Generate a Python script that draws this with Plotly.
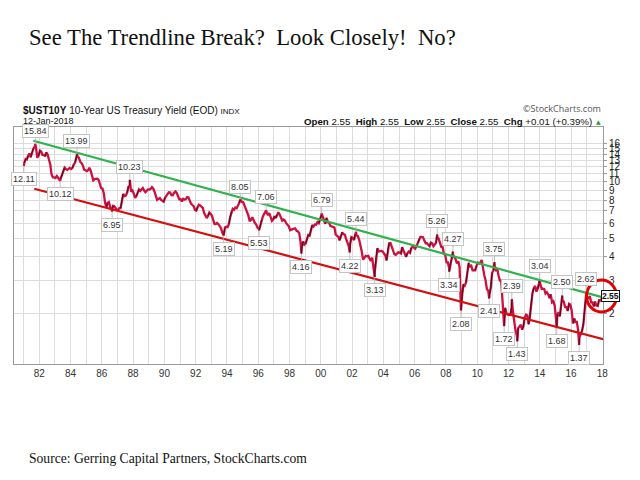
import math
import plotly.graph_objects as go
import pandas as pd

# ---------------- data ----------------
# monthly 10-year yield (approx. monthly levels), Jan 1981 .. Dec 2017
y1981 = [12.57, 13.19, 13.12, 13.68, 14.10, 13.47, 14.28, 14.94, 15.32, 15.15, 13.39, 13.72]
y1982 = [14.59, 14.43, 13.86, 13.87, 13.62, 14.30, 13.95, 13.06, 12.34, 10.91, 10.55, 10.54]
y1983 = [10.46, 10.72, 10.51, 10.40, 10.38, 10.85, 11.38, 11.85, 11.65, 11.54, 11.69, 11.83]
y1984 = [11.67, 11.84, 12.32, 12.63, 13.41, 13.56, 13.36, 12.72, 12.52, 12.16, 11.57, 11.50]
y1985 = [11.38, 11.51, 11.86, 11.43, 10.85, 10.16, 10.31, 10.33, 10.37, 10.24, 9.78, 9.26]
y1986 = [9.19, 8.70, 7.78, 7.30, 7.71, 7.80, 7.30, 7.17, 7.45, 7.43, 7.25, 7.11]
y1987 = [7.08, 7.25, 7.25, 8.02, 8.61, 8.40, 8.45, 8.76, 9.42, 9.52, 8.86, 8.99]
y1988 = [8.67, 8.21, 8.37, 8.72, 9.09, 8.92, 9.06, 9.26, 8.98, 8.80, 8.96, 9.11]
y1989 = [9.09, 9.17, 9.36, 9.18, 8.86, 8.28, 8.02, 8.11, 8.19, 8.01, 7.87, 7.84]
y1990 = [8.21, 8.47, 8.59, 8.79, 8.76, 8.48, 8.47, 8.75, 8.89, 8.72, 8.39, 8.08]
y1991 = [8.09, 7.85, 8.11, 8.04, 8.07, 8.28, 8.27, 7.90, 7.65, 7.53, 7.42, 7.09]
y1992 = [7.03, 7.34, 7.54, 7.48, 7.39, 7.26, 6.84, 6.59, 6.42, 6.59, 6.87, 6.77]
y1993 = [6.60, 6.26, 5.98, 5.97, 6.04, 5.96, 5.81, 5.68, 5.36, 5.33, 5.72, 5.77]
y1994 = [5.75, 5.97, 6.48, 6.97, 7.18, 7.10, 7.30, 7.24, 7.46, 7.74, 7.96, 7.81]
y1995 = [7.78, 7.47, 7.20, 7.06, 6.63, 6.17, 6.28, 6.49, 6.20, 6.04, 5.93, 5.71]
y1996 = [5.65, 5.81, 6.27, 6.51, 6.74, 6.91, 6.87, 6.64, 6.83, 6.53, 6.20, 6.30]
y1997 = [6.58, 6.42, 6.69, 6.89, 6.71, 6.49, 6.22, 6.30, 6.21, 6.03, 5.88, 5.81]
y1998 = [5.54, 5.57, 5.65, 5.64, 5.65, 5.50, 5.46, 5.34, 4.81, 4.53, 4.83, 4.65]
y1999 = [4.72, 5.00, 5.23, 5.18, 5.54, 5.90, 5.79, 5.94, 5.92, 6.11, 6.03, 6.28]
y2000 = [6.66, 6.52, 6.26, 5.99, 6.44, 6.10, 6.05, 5.83, 5.80, 5.74, 5.72, 5.24]
y2001 = [5.16, 5.10, 4.89, 5.14, 5.39, 5.28, 5.24, 4.97, 4.73, 4.57, 4.65, 5.09]
y2002 = [5.04, 4.91, 5.28, 5.21, 5.16, 4.93, 4.65, 4.26, 3.87, 3.94, 4.05, 4.03]
y2003 = [4.05, 3.90, 3.81, 3.96, 3.57, 3.33, 3.98, 4.45, 4.27, 4.29, 4.30, 4.27]
y2004 = [4.15, 4.08, 3.83, 4.35, 4.72, 4.73, 4.50, 4.28, 4.13, 4.10, 4.19, 4.23]
y2005 = [4.22, 4.17, 4.50, 4.34, 4.14, 4.00, 4.18, 4.26, 4.20, 4.46, 4.54, 4.47]
y2006 = [4.42, 4.57, 4.72, 4.99, 5.11, 5.11, 5.09, 4.88, 4.72, 4.73, 4.60, 4.56]
y2007 = [4.76, 4.72, 4.56, 4.69, 4.75, 5.10, 5.00, 4.67, 4.52, 4.53, 4.15, 4.10]
y2008 = [3.74, 3.74, 3.51, 3.68, 3.88, 4.10, 4.01, 3.89, 3.69, 3.81, 3.53, 2.42]
y2009 = [2.52, 2.87, 2.82, 2.93, 3.29, 3.72, 3.56, 3.59, 3.40, 3.39, 3.40, 3.59]
y2010 = [3.73, 3.69, 3.73, 3.85, 3.42, 3.20, 3.01, 2.70, 2.65, 2.54, 2.76, 3.29]
y2011 = [3.39, 3.58, 3.41, 3.46, 3.17, 3.00, 3.00, 2.30, 1.98, 2.15, 2.01, 1.98]
y2012 = [1.97, 1.97, 2.17, 2.05, 1.80, 1.62, 1.53, 1.68, 1.72, 1.75, 1.65, 1.72]
y2013 = [1.91, 1.98, 1.96, 1.76, 1.93, 2.30, 2.58, 2.74, 2.81, 2.62, 2.72, 2.90]
y2014 = [2.86, 2.71, 2.72, 2.71, 2.56, 2.60, 2.54, 2.42, 2.53, 2.30, 2.33, 2.21]
y2015 = [1.88, 1.98, 2.04, 1.94, 2.20, 2.36, 2.32, 2.17, 2.17, 2.07, 2.26, 2.24]
y2016 = [2.09, 1.78, 1.89, 1.81, 1.81, 1.64, 1.50, 1.56, 1.63, 1.76, 2.14, 2.49]
y2017 = [2.43, 2.42, 2.48, 2.30, 2.30, 2.19, 2.32, 2.21, 2.20, 2.36, 2.35, 2.40]

# labelled turning points (date, value, side)
pivot_dates = ["1981-01-05", "1981-09-30", "1983-05-05", "1984-05-30", "1986-08-29", "1987-10-16",
               "1993-10-15", "1994-11-07", "1996-01-18", "1996-07-05", "1998-10-05", "2000-01-20",
               "2001-11-07", "2002-04-01", "2003-06-13", "2007-06-12", "2008-03-17", "2008-06-13",
               "2008-12-18", "2010-10-08", "2011-02-08", "2011-09-22", "2012-03-19", "2012-07-25",
               "2013-12-31", "2015-01-30", "2015-06-10", "2016-07-08", "2016-12-15", "2018-01-12"]
pivot_values = [12.11, 15.84, 10.12, 13.99, 6.95, 10.23,
                5.19, 8.05, 5.53, 7.06, 4.16, 6.79,
                4.22, 5.44, 3.13, 5.26, 3.34, 4.27,
                2.08, 2.41, 3.75, 1.72, 2.39, 1.43,
                3.04, 1.68, 2.50, 1.37, 2.62, 2.55]
pivot_side = ["below", "above", "below", "above", "below", "above",
              "below", "above", "below", "above", "below", "above",
              "below", "above", "below", "above", "below", "above",
              "below", "below", "above", "below", "above", "below",
              "above", "below", "above", "below", "above", "none"]

# trendlines (start/end)
upper_dates = ["1981-08-15", "2018-01-14"]
upper_values = [16.48, 2.44]
lower_dates = ["1981-09-05", "2018-01-20"]
lower_values = [9.18, 1.466]

last_value = 2.55
y_ticks = [2, 3, 4, 5, 6, 7, 8, 9, 10, 11, 12, 13, 14, 15, 16]
x_tick_years = list(range(1982, 2019, 2))

# ---------------- build series ----------------
monthly = (y1981 + y1982 + y1983 + y1984 + y1985 + y1986 + y1987 + y1988 + y1989 + y1990 +
           y1991 + y1992 + y1993 + y1994 + y1995 + y1996 + y1997 + y1998 + y1999 + y2000 +
           y2001 + y2002 + y2003 + y2004 + y2005 + y2006 + y2007 + y2008 + y2009 + y2010 +
           y2011 + y2012 + y2013 + y2014 + y2015 + y2016 + y2017)
mdates = pd.date_range("1981-01-01", periods=len(monthly), freq="MS") + pd.Timedelta(days=14)
s = pd.concat([pd.Series(monthly, index=mdates),
               pd.Series(pivot_values, index=pd.to_datetime(pivot_dates))]).sort_index()
s = s[~s.index.duplicated(keep="last")]
xs = list(s.index)
ys = list(s.values)

# strongly rising segments, drawn darker
rx, ry = [], []
for i in range(1, len(ys)):
    if ys[i] > ys[i - 1] * 1.04:
        rx += [xs[i - 1], xs[i], None]
        ry += [ys[i - 1], ys[i], None]

# ---------------- layout geometry ----------------
# target positions are given in screen pixels; the page shows the figure offset by OFF px
W, H = 640, 480
OFF = 8
PL, PR, PT, PB = 14, 603, 127, 364          # plot box on screen
L, R, T, B = PL - OFF, W - (PR - OFF), PT - OFF, H - (PB - OFF)
pw, ph = PR - PL, PB - PT


def xp(px):
    return (px - PL) / pw


def yp(py):
    return (PB - py) / ph


def year_to_date(y):
    return pd.Timestamp("1982-01-01") + pd.Timedelta(days=(y - 1982) * 365.25)


x_left = year_to_date(1982 + (PL - 39.3) / 15.64)
x_right = year_to_date(1982 + (PR - 39.3) / 15.64)

fig = go.Figure()
fig.add_trace(go.Scatter(x=xs, y=ys, mode="lines", line=dict(color="#cc1040", width=2.3),
                         hoverinfo="skip", showlegend=False))
fig.add_trace(go.Scatter(x=rx, y=ry, mode="lines", line=dict(color="#301018", width=0.9),
                         hoverinfo="skip", showlegend=False, connectgaps=False))
fig.add_trace(go.Scatter(x=pd.to_datetime(upper_dates), y=upper_values, mode="lines",
                         line=dict(color="#2fb24c", width=2.2), hoverinfo="skip", showlegend=False))
fig.add_trace(go.Scatter(x=pd.to_datetime(lower_dates), y=lower_values, mode="lines",
                         line=dict(color="#d40f0f", width=2.2), hoverinfo="skip", showlegend=False))

annotations = []
for d, v, side in zip(pivot_dates, pivot_values, pivot_side):
    if side == "none":
        continue
    annotations.append(dict(
        x=pd.Timestamp(d), y=math.log10(v), xref="x", yref="y",
        text=f"{v:.2f}", showarrow=True, arrowhead=0, arrowwidth=0.8, arrowcolor="#b0b0b0",
        ax=0, ay=-13 if side == "above" else 13, standoff=0,
        font=dict(family="Liberation Sans, Arial", size=9, color="#333333"),
        bgcolor="white", bordercolor="#c4c4c4", borderwidth=1, borderpad=1))

# header texts
annotations += [
    dict(x=xp(27), y=yp(38), xref="paper", yref="paper", xanchor="left", yanchor="middle",
         text="See The Trendline Break?\u00a0 Look Closely!\u00a0 No?", showarrow=False,
         font=dict(family="Liberation Serif, Times New Roman", size=22.7, color="#111111")),
    dict(x=xp(27), y=yp(458), xref="paper", yref="paper", xanchor="left", yanchor="middle",
         text="Source: Gerring Capital Partners, StockCharts.com", showarrow=False,
         font=dict(family="Liberation Serif, Times New Roman", size=13.6, color="#111111")),
    dict(x=xp(21), y=yp(110), xref="paper", yref="paper", xanchor="left", yanchor="middle",
         text="<b>$UST10Y</b> 10-Year US Treasury Yield (EOD) <span style='font-size:8px'>INDX</span>",
         showarrow=False, font=dict(family="Liberation Sans, Arial", size=10, color="#111111")),
    dict(x=xp(21), y=yp(121), xref="paper", yref="paper", xanchor="left", yanchor="middle",
         text="12-Jan-2018", showarrow=False,
         font=dict(family="Liberation Sans, Arial", size=9, color="#111111")),
    dict(x=xp(603), y=yp(108), xref="paper", yref="paper", xanchor="right", yanchor="middle",
         text="\u00a9StockCharts.com", showarrow=False,
         font=dict(family="Open Sans, Liberation Sans", size=9, color="#555555")),
    dict(x=xp(594), y=yp(121), xref="paper", yref="paper", xanchor="right", yanchor="middle",
         text="<b>Open</b> 2.55  <b>High</b> 2.55  <b>Low</b> 2.55  <b>Close</b> 2.55  <b>Chg</b> +0.01 (+0.39%)",
         showarrow=False, font=dict(family="Liberation Sans, Arial", size=9.7, color="#111111")),
    dict(x=xp(598), y=yp(121), xref="paper", yref="paper", xanchor="center", yanchor="middle",
         text="\u25b2", showarrow=False, font=dict(family="DejaVu Sans", size=6, color="#2a9a2a")),
    dict(x=xp(610), y=yp(296), xref="paper", yref="paper", xanchor="center", yanchor="middle",
         text=f"<b>{last_value:.2f}</b>", showarrow=False,
         font=dict(family="Liberation Sans, Arial", size=8.5, color="#111111"),
         bgcolor="white", bordercolor="#111111", borderwidth=1, borderpad=0),
]

shapes = [dict(type="circle", xref="paper", yref="paper",
               x0=xp(586.5), x1=xp(616.5), y0=yp(312), y1=yp(280),
               line=dict(color="#e00000", width=3), layer="above")]

fig.update_layout(
    width=W, height=H, margin=dict(l=L, r=R, t=T, b=B, autoexpand=False),
    paper_bgcolor="white", plot_bgcolor="white",
    annotations=annotations, shapes=shapes, showlegend=False,
    xaxis=dict(type="date", range=[x_left, x_right], automargin=False,
               tickvals=[pd.Timestamp(f"{y}-01-01") for y in x_tick_years],
               ticktext=[f"{y % 100:02d}" for y in x_tick_years],
               showgrid=True, gridcolor="#dcdcdc", gridwidth=1,
               minor=dict(dtick="M12", tick0="1981-01-01", showgrid=True, gridcolor="#dcdcdc"),
               showline=True, linecolor="#9a9a9a", mirror=True, ticks="", zeroline=False,
               tickfont=dict(family="Liberation Sans, Arial", size=10, color="#333333")),
    yaxis=dict(type="log", side="right", range=[0.0354, 1.2894], automargin=False,
               tickvals=y_ticks, ticktext=[str(t) for t in y_ticks],
               showgrid=True, gridcolor="#dcdcdc", gridwidth=1,
               showline=True, linecolor="#9a9a9a", mirror=True,
               ticks="outside", ticklen=3, tickcolor="#9a9a9a", zeroline=False,
               tickfont=dict(family="Liberation Sans, Arial", size=10, color="#222222")),
)

fig.write_html("out.html")
